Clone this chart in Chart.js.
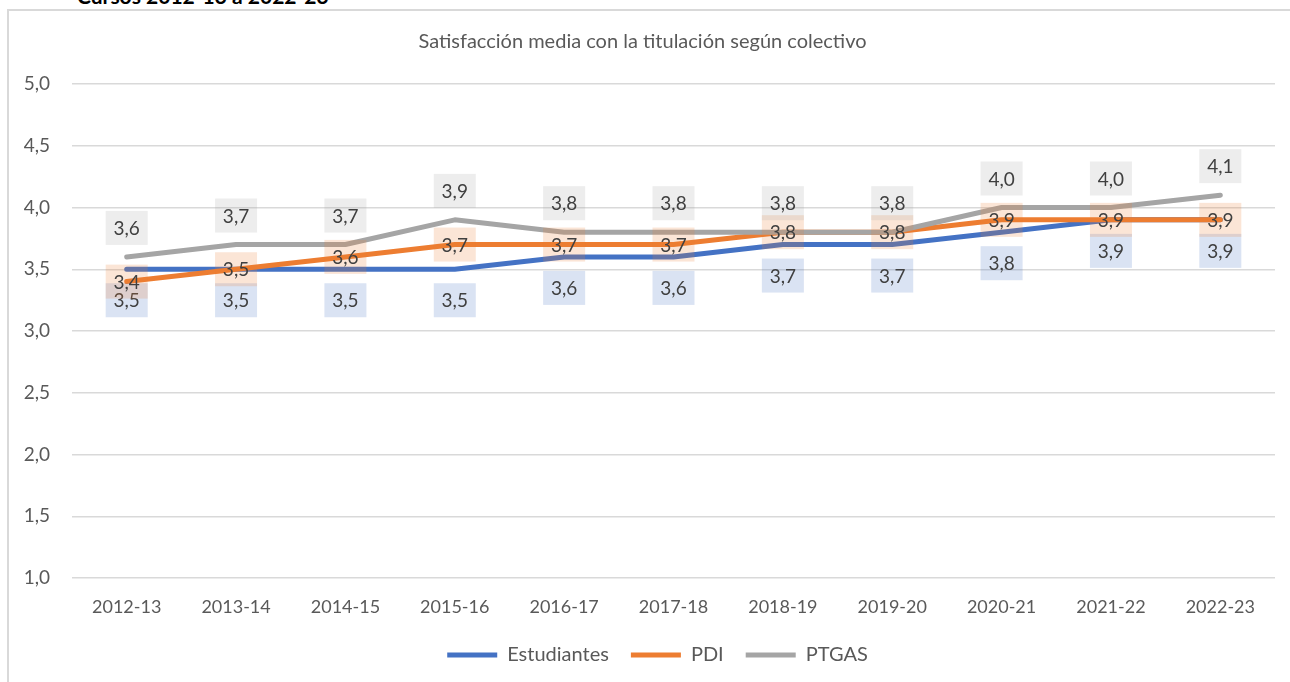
<!DOCTYPE html>
<html>
<head>
<meta charset="utf-8">
<script src="https://cdn.jsdelivr.net/npm/chart.js@4.4.1/dist/chart.umd.min.js"></script>
<style>
  html, body { margin: 0; padding: 0; background: #fff; overflow: hidden; }
  #wrap { position: relative; width: 1290px; height: 682px; overflow: hidden; }
  #frame { position: absolute; left: 7px; top: 9px; width: 1400px; height: 800px; border: 2px solid #d9d9d9; box-sizing: border-box; }
  #sup { position: absolute; left: 77px; top: -17px; font: bold 21px Lato, sans-serif; color: #000; white-space: nowrap; }
  #box { position: absolute; left: 0; top: 0; width: 1290px; height: 690px; }
</style>
</head>
<body>
<div id="wrap">
  <div id="frame"></div>
  <div id="sup">Cursos 2012-13 a 2022-23</div>
  <div id="box"><canvas id="chart"></canvas></div>
</div>
<script>
// Data
const cursos = ['2012-13', '2013-14', '2014-15', '2015-16', '2016-17', '2017-18', '2018-19', '2019-20', '2020-21', '2021-22', '2022-23'];
const estudiantes = [3.5, 3.5, 3.5, 3.5, 3.6, 3.6, 3.7, 3.7, 3.8, 3.9, 3.9];
const pdi = [3.4, 3.5, 3.6, 3.7, 3.7, 3.7, 3.8, 3.8, 3.9, 3.9, 3.9];
const ptgas = [3.6, 3.7, 3.7, 3.9, 3.8, 3.8, 3.8, 3.8, 4.0, 4.0, 4.1];
const yTicks = [1.0, 1.5, 2.0, 2.5, 3.0, 3.5, 4.0, 4.5, 5.0];

const FONT = 'Lato, sans-serif';
const fmt = v => Number(v).toFixed(1).replace('.', ',');

// Excel-like data labels: box + value, placed below / centre / above
const labelPlugin = {
    id: 'valueLabels',
    afterDatasetsDraw(chart) {
        const ctx = chart.ctx;
        const place = [
            { bg: 'rgba(68,114,196,0.2)', dy: 31 },
            { bg: 'rgba(237,125,49,0.2)', dy: 0 },
            { bg: 'rgba(165,165,165,0.2)', dy: -29 }
        ];
        ctx.save();
        ctx.font = '19px ' + FONT;
        ctx.textAlign = 'center';
        ctx.textBaseline = 'middle';
        chart.data.datasets.forEach((ds, i) => {
            const meta = chart.getDatasetMeta(i);
            meta.data.forEach((pt, j) => {
                const cx = pt.x, cy = pt.y + place[i].dy;
                ctx.fillStyle = place[i].bg;
                ctx.fillRect(cx - 21, cy - 17, 42, 34);
                ctx.fillStyle = '#404040';
                ctx.fillText(fmt(ds.data[j]), cx, cy + 1);
            });
        });
        ctx.restore();
    }
};

// nudge the legend a little to the right, like the original
const legendShift = {
    id: 'legendShift',
    afterLayout(chart) {
        const lg = chart.legend;
        lg.left += 15; lg.right += 15;
        lg.adjustHitBoxes();
    }
};

const lineDs = (label, data, color, order) => ({
    label: label, data: data, borderColor: color, backgroundColor: color,
    borderWidth: 5, pointRadius: 0, tension: 0, order: order,
    borderCapStyle: 'round', borderJoinStyle: 'round', fill: false
});

new Chart(document.getElementById('chart'), {
    type: 'line',
    data: {
        labels: cursos,
        datasets: [
            lineDs('Estudiantes', estudiantes, '#4472C4', 3),
            lineDs('PDI', pdi, '#ED7D31', 2),
            lineDs('PTGAS', ptgas, '#A5A5A5', 1)
        ]
    },
    options: {
        responsive: true, maintainAspectRatio: false, animation: false,
        layout: { padding: { top: 0, left: 10, right: 15, bottom: 15 } },
        scales: {
            x: {
                offset: true,
                grid: { display: false, drawTicks: false },
                border: { display: false },
                ticks: { color: '#595959', font: { family: FONT, size: 18 }, padding: 18, maxRotation: 0 },
                afterFit: s => { s.height = 45; }
            },
            y: {
                min: 1, max: 5,
                afterBuildTicks: s => { s.ticks = yTicks.map(v => ({ value: v })); },
                grid: { color: '#d9d9d9', lineWidth: 1.5, drawTicks: false },
                border: { display: false },
                ticks: { color: '#595959', font: { family: FONT, size: 19 }, padding: 22, callback: v => fmt(v) },
                afterFit: s => { s.width = 62; }
            }
        },
        plugins: {
            title: {
                display: true, text: 'Satisfacción media con la titulación según colectivo',
                color: '#595959', font: { family: FONT, size: 20, weight: 'normal' },
                padding: { top: 30, bottom: 30 }
            },
            legend: {
                position: 'bottom',
                labels: {
                    usePointStyle: true, pointStyle: 'line', pointStyleWidth: 50,
                    color: '#595959', font: { family: FONT, size: 20 }, padding: 22,
                    sort: (a, b) => a.datasetIndex - b.datasetIndex
                }
            },
            tooltip: { enabled: false }
        }
    },
    plugins: [labelPlugin, legendShift]
});
</script>
</body>
</html>
